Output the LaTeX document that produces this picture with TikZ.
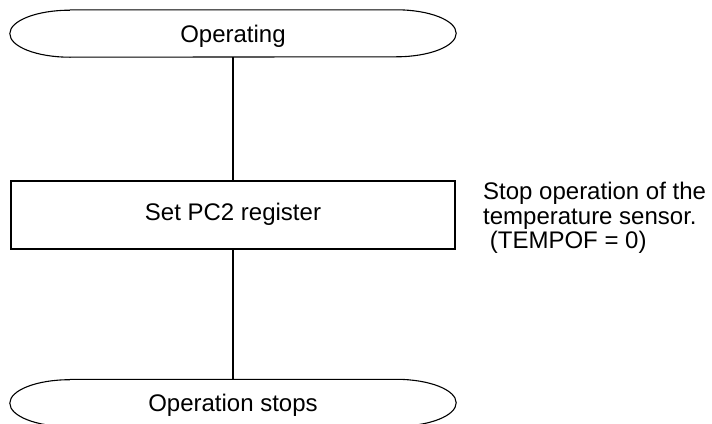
\documentclass[tikz,border=0pt]{standalone}
\usepackage{fontspec}
\setmainfont{Liberation Sans}
\usetikzlibrary{positioning}
\tikzset{
  term/.style ={rectangle, minimum width=446pt, minimum height=47pt, inner sep=0pt, align=center, text height=17pt, text depth=0pt},
  proc/.style ={draw, line width=1.1pt, rectangle, minimum width=444pt, minimum height=68pt, align=center, text height=17pt, text depth=7pt},
  note/.style ={align=left, inner sep=0pt, anchor=north west},
  conn/.style ={draw, line width=1.1pt},
}
% outline of a terminal node: flat top and bottom, elliptic ends
\newcommand{\termline}[1]{%
  \draw[line width=1.1pt] ([xshift=60pt]#1.north west) -- ([xshift=-60pt]#1.north east)
    arc[start angle=90, end angle=-90, x radius=60pt, y radius=23.5pt]
    -- ([xshift=60pt]#1.south west)
    arc[start angle=270, end angle=90, x radius=60pt, y radius=23.5pt];}

\begin{document}
\begin{tikzpicture}[x=1pt, y=-1pt, font=\fontsize{24}{24.5}\selectfont]
  \useasboundingbox (0,0) rectangle (712,423);

  \node[term] (start) at (233,33.5) {Operating};
  \node[proc] (setpc) at (233,215) {Set PC2 register};
  \node[term] (stop) at (233,403) {Operation stops};
  \termline{start}
  \termline{stop}

  \draw[conn] (start.south -| setpc.north) -- (setpc.north);
  \draw[conn] (setpc.south) -- (setpc.south |- stop.north);

  \node[note] (remark) at (483,182)
    {Stop operation of the\\temperature sensor.\\\ (TEMPOF = 0)};
\end{tikzpicture}
\end{document}
